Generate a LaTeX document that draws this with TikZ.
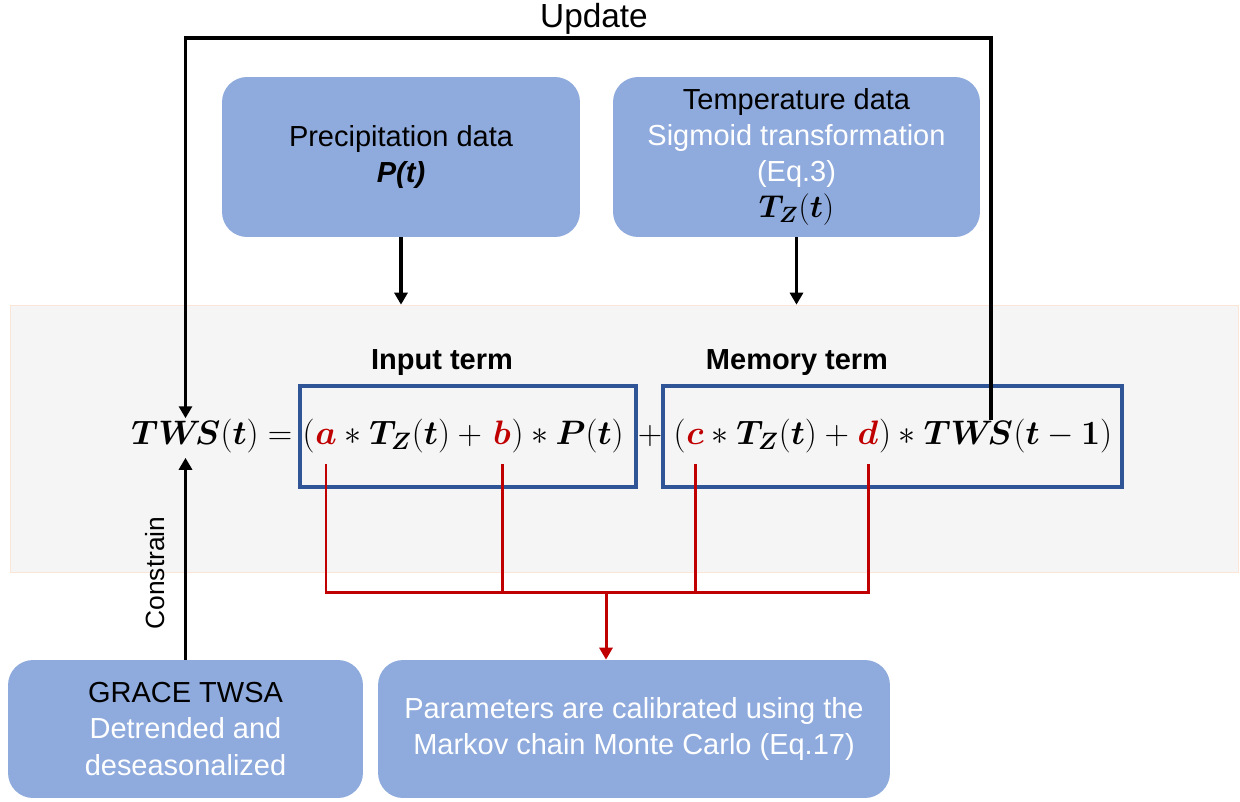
\RequirePackage{fix-cm}
\documentclass[tikz,border=0pt]{standalone}
\usepackage{fontspec,bm}
\setmainfont{Liberation Sans}
\usetikzlibrary{arrows.meta,calc,positioning}
\definecolor{boxblue}{HTML}{8FAADC}
\definecolor{termblue}{HTML}{2F5597}
\definecolor{parred}{HTML}{C00000}
\definecolor{bandgray}{HTML}{F5F5F5}
\definecolor{bandedge}{HTML}{FBE5D6}
\newcommand{\TzT}{\bm{T}_{\bm{Z}}(\bm{t})}
\newcommand{\TWSb}{\bm{TW}\!\bm{S}}

\begin{document}
\begin{tikzpicture}[x=0.02cm,y=0.02cm,font=\fontsize{16.5}{20.5}\selectfont,
  databox/.style={fill=boxblue,rounded corners=0.5cm,align=center,text=white,inner sep=0pt},
  termbox/.style={draw=termblue,line width=2pt,minimum height=2.02cm,inner sep=0pt},
  termlbl/.style={font=\fontsize{16.5}{20}\selectfont\bfseries},
  eqn/.style={font=\fontsize{19.3}{23}\selectfont,inner sep=0pt,anchor=base},
  flow/.style={line width=1.8pt,-{Triangle[length=0.24cm,width=0.26cm]}},
  parline/.style={draw=parred,line width=1.7pt},
  pararrow/.style={parline,-{Triangle[length=0.24cm,width=0.26cm]}}]
\useasboundingbox (0,0) rectangle (1240,-801);
% model band
\node[draw=bandedge,fill=bandgray,minimum width=24.56cm,minimum height=5.34cm,inner sep=0pt] (band) at (624,-438.5) {};
% data boxes
\node[databox,text=black,minimum width=7.16cm,minimum height=3.2cm] (precip) at (401,-157) {Precipitation data\\\textbf{\textit{P(t)}}};
\node[databox,minimum width=7.34cm,minimum height=3.2cm] (temp) at (796.5,-157) {{\color{black}Temperature data}\\Sigmoid transformation\\(Eq.3)\\{\color{black}\fontsize{18}{20.5}\selectfont$\TzT$}};
\node[databox,minimum width=7.1cm,minimum height=2.76cm] (grace) at (185.5,-729) {{\color{black}GRACE TWSA}\\Detrended and\\deseasonalized};
\node[databox,minimum width=10.24cm,minimum height=2.76cm] (param) at (634,-729) {Parameters are calibrated using the\\Markov chain Monte Carlo (Eq.17)};
% term boxes
\node[termbox,minimum width=6.72cm] (inBox) at (468,-436.5) {};
\node[termbox,minimum width=9.18cm] (memBox) at (892.5,-436.5) {};
\node[termlbl] (inLbl) at (442,-363) {Input term};
\node[termlbl] (memLbl) at (797,-363) {Memory term};
% equation
\node[eqn,text=parred] (a) at (326,-444) {$\bm{a}$};
\node[eqn,anchor=base east] (lpA) at (a.base west) {$($};
\node[eqn,anchor=base east] (lhs) at (lpA.base west) {$\TWSb(\bm{t})={}$};
\node[eqn,anchor=base west] (midA) at (a.base east) {${}\ast\TzT+{}$};
\node[eqn,text=parred] (b) at (502,-444) {$\bm{b}$};
\node[eqn,anchor=base west] (rpB) at (b.base east) {$)\ast\bm{P}(\bm{t})$};
\node[eqn] (plus) at (650,-444) {$+$};
\node[eqn,text=parred] (c) at (695,-444) {$\bm{c}$};
\node[eqn,anchor=base east] (lpC) at (c.base west) {$($};
\node[eqn,anchor=base west] (midC) at (c.base east) {${}\ast\TzT+{}$};
\node[eqn,text=parred] (d) at (868,-444) {$\bm{d}$};
\node[eqn,anchor=base west] (rpD) at (d.base east) {$)\ast{}$};
\node[eqn,anchor=base west] (twsM) at (rpD.base east) {$\TWSb$};
\node[eqn,anchor=base west] (argM) at (twsM.base east) {$(\bm{t}-\bm{1})$};
% inputs
\draw[flow] (precip.south) -- (precip.south |- band.north);
\draw[flow] (temp.south) -- (temp.south |- band.north);
% update loop
\coordinate (upR) at (991,-38);
\draw[flow] (upR |- twsM.north) -- (upR) -| (grace.north |- lhs.north);
\node[font=\fontsize{19}{23}\selectfont] (upd) at (594,-19) {Update};
% constrain
\draw[flow] (grace.north) -- ([yshift=-0.1cm]grace.north |- lhs.south);
\node[rotate=90,font=\fontsize{15}{18}\selectfont] (cons) at (155,-573) {Constrain};
% calibration
\coordinate (redJ) at (606,-592);
\draw[parline] ([yshift=-0.4cm]a.base) |- (redJ) -| ([yshift=-0.4cm]d.base);
\foreach \p in {b,c}
  \draw[parline] ([yshift=-0.4cm]\p.base) -- (\p |- redJ);
\draw[pararrow] (redJ) -- (redJ |- param.north);
\end{tikzpicture}
\end{document}
